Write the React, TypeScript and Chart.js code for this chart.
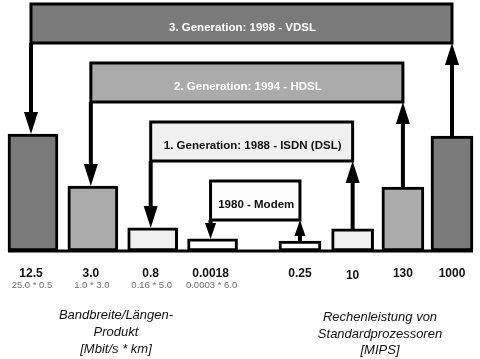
import React, { useEffect, useRef } from "react";
import { Chart, registerables } from "chart.js";

Chart.register(...registerables);

// ---- data ----
const bandwidthValues = ["12.5", "3.0", "0.8", "0.0018"];
const bandwidthFactors = ["25.0 * 0.5", "1.0 * 3.0", "0.16 * 5.0", "0.0003 * 6.0"];
const mipsValues = ["0.25", "10", "130", "1000"];
// schematic bar heights (relative units, as drawn in the diagram)
const bandwidthLevels = [46.6, 25.9, 9.2, 4.8];
const mipsLevels = [4.0, 8.8, 25.5, 45.8];
// slot index of each bar along the x axis
const bandwidthSlots = [0, 1, 2, 3];
const mipsSlots = [4.46, 5.34, 6.18, 7];
const generationLabels = [
  "3. Generation: 1998 - VDSL",
  "2. Generation: 1994 - HDSL",
  "1. Generation: 1988 - ISDN (DSL)",
  "1980 - Modem",
];
const bandwidthTitle = ["Bandbreite/Längen-", "Produkt", "[Mbit/s * km]"];
const mipsTitle = ["Rechenleistung von", "Standardprozessoren", "[MIPS]"];

// ---- styles ----
const genFill = ["#7a7a7a", "#ababab", "#f0f0f0", "#fcfcfc"];
const genText = ["#ffffff", "#ffffff", "#111111", "#111111"];
const FONT = '"Liberation Sans", Arial, sans-serif';

const diagramPlugin = {
  id: "diagram",
  afterDatasetsDraw(chart: any) {
    const ctx: CanvasRenderingContext2D = chart.ctx;
    const left = chart.getDatasetMeta(0).data;
    const right = chart.getDatasetMeta(1).data;
    const base = chart.scales.y.getPixelForValue(0);
    ctx.save();

    // baseline
    ctx.strokeStyle = "#000";
    ctx.lineWidth = 3;
    ctx.beginPath();
    ctx.moveTo(left[0].x - left[0].width / 2, base);
    ctx.lineTo(right[3].x + right[3].width / 2, base);
    ctx.stroke();

    const arrow = (x: number, from: number, tip: number, w: number, l: number) => {
      const dir = tip > from ? 1 : -1;
      ctx.strokeStyle = "#000";
      ctx.lineWidth = 4;
      ctx.beginPath();
      ctx.moveTo(x, from);
      ctx.lineTo(x, tip - dir * (l - 2));
      ctx.stroke();
      ctx.fillStyle = "#000";
      ctx.beginPath();
      ctx.moveTo(x, tip);
      ctx.lineTo(x - w / 2, tip - dir * l);
      ctx.lineTo(x + w / 2, tip - dir * l);
      ctx.closePath();
      ctx.fill();
    };

    for (let k = 0; k < 4; k++) {
      const lb = left[k];
      const rb = right[3 - k];
      const top = 4 + k * 59;
      const h = 39;
      const bottom = top + h;
      const hw = k === 3 ? 11 : 14;
      const hl = k === 3 ? 16 : 22;
      arrow(lb.x - 2, bottom, lb.y, hw, hl);
      arrow(rb.x, rb.y, bottom, hw, hl);

      ctx.fillStyle = genFill[k];
      ctx.fillRect(lb.x - 2, top, rb.x - lb.x + 2, h);
      ctx.strokeStyle = "#000";
      ctx.lineWidth = 3;
      ctx.strokeRect(lb.x - 2, top, rb.x - lb.x + 2, h);

      ctx.fillStyle = genText[k];
      ctx.font = `bold 11.5px ${FONT}`;
      ctx.textAlign = "center";
      ctx.textBaseline = "middle";
      ctx.fillText(generationLabels[k], (lb.x + rb.x) / 2, top + h / 2 + 4.5);
    }

    // value labels
    ctx.textBaseline = "alphabetic";
    ctx.textAlign = "center";
    for (let i = 0; i < 4; i++) {
      ctx.fillStyle = "#111";
      ctx.font = `bold 12px ${FONT}`;
      ctx.fillText(bandwidthValues[i], left[i].x - 2, 276.5);
      ctx.fillText(mipsValues[i], right[i].x, i === 1 ? 278.5 : 277);
      ctx.fillStyle = "#707070";
      ctx.font = `9.5px ${FONT}`;
      ctx.fillText(bandwidthFactors[i], left[i].x - 1, 288);
    }

    // axis titles
    ctx.fillStyle = "#111";
    ctx.font = `italic 13px ${FONT}`;
    const lb = [319, 335.5, 352.5];
    bandwidthTitle.forEach((t, i) => ctx.fillText(t, 116, lb[i]));
    const rbs = [321, 337.5, 354];
    mipsTitle.forEach((t, i) => ctx.fillText(t, 380, rbs[i]));

    ctx.restore();
  },
};

export default function App() {
  const ref = useRef<HTMLCanvasElement>(null);
  useEffect(() => {
    if (!ref.current) return;
    const barColor = (levelIdx: number) => genFill[levelIdx];
    const chart = new Chart(ref.current, {
      type: "bar",
      data: {
        datasets: [
          {
            label: "Bandbreite/Längen-Produkt",
            data: bandwidthSlots.map((x, i) => ({ x, y: bandwidthLevels[i] })),
            backgroundColor: bandwidthSlots.map((_, i) => barColor(i)),
            borderColor: "#000",
            borderWidth: 3,
            borderSkipped: false,
            barThickness: 50,
            grouped: false,
          } as any,
          {
            label: "Rechenleistung",
            data: mipsSlots.map((x, i) => ({ x, y: mipsLevels[i] })),
            backgroundColor: mipsSlots.map((_, i) => barColor(3 - i)),
            borderColor: "#000",
            borderWidth: 3,
            borderSkipped: false,
            barThickness: 42,
            grouped: false,
          } as any,
        ],
      },
      options: {
        animation: false,
        responsive: false,
        devicePixelRatio: 1,
        layout: { padding: { left: 0, right: 0, top: 0, bottom: 108 } },
        plugins: { legend: { display: false }, tooltip: { enabled: false } },
        scales: {
          x: { type: "linear", min: -0.551, max: 7.468, offset: false, display: false },
          y: { type: "linear", min: 0, max: 100, display: false },
        },
      },
      plugins: [diagramPlugin],
    });
    return () => chart.destroy();
  }, []);
  return (
    <div style={{ position: "fixed", left: 0, top: 0, width: 480, height: 359, background: "#fff" }}>
      <canvas ref={ref} width={480} height={359} style={{ width: 480, height: 359, display: "block" }} />
    </div>
  );
}
